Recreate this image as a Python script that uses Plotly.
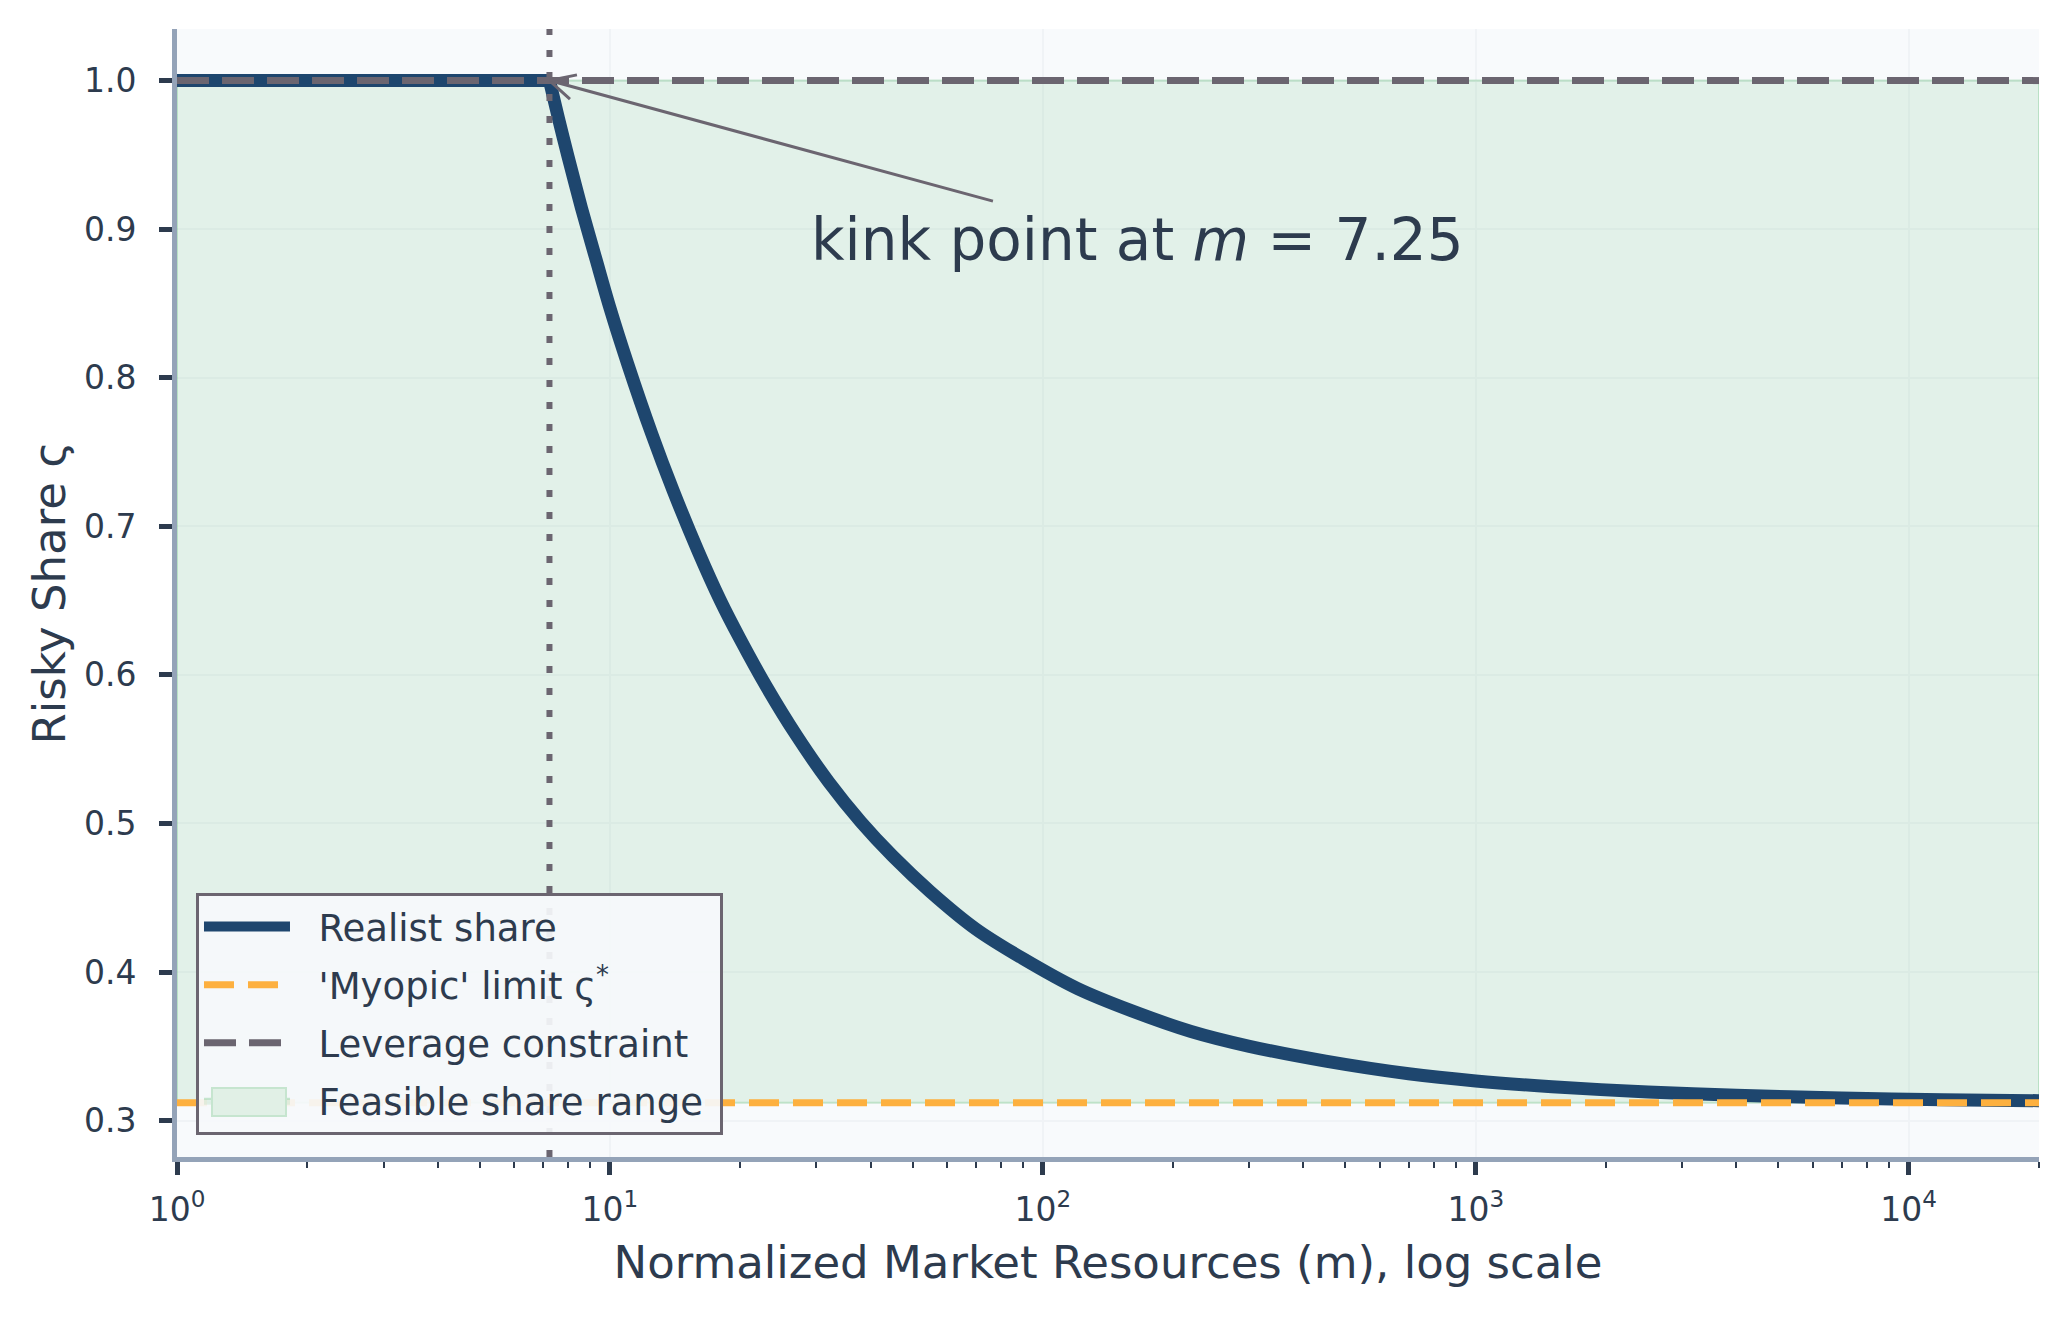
import numpy as np
import plotly.graph_objects as go

# values
m_vals = [1, 7.25, 7.6, 8.0, 8.6, 9.3, 10, 11, 12.5, 14, 16, 18, 20, 23, 27, 32, 38, 45, 55,
          70, 90, 120, 160, 220, 300, 450, 700, 1000, 1500, 2500, 4000, 7000, 12000, 20000]
share_vals = [1.0, 1.0, 0.975, 0.949, 0.914, 0.879, 0.847, 0.809, 0.762, 0.724, 0.683, 0.650,
              0.624, 0.592, 0.559, 0.528, 0.501, 0.478, 0.454, 0.429, 0.409, 0.389, 0.374,
              0.360, 0.350, 0.340, 0.3315, 0.3267, 0.3228, 0.3192, 0.3170, 0.3152, 0.3141, 0.3134]
myopic_limit = 0.312
leverage_limit = 1.0
kink_m = 7.25
m_min, m_max = 1, 20000
y_min, y_max = 0.2755, 1.0347

major_ticks = [1, 10, 100, 1000, 10000]
major_labels = ["10<sup>0</sup>", "10<sup>1</sup>", "10<sup>2</sup>", "10<sup>3</sup>", "10<sup>4</sup>"]
minor_ticks = [k * 10 ** d for d in range(5) for k in range(2, 10) if k * 10 ** d <= m_max]
y_ticks = [0.3, 0.4, 0.5, 0.6, 0.7, 0.8, 0.9, 1.0]

NAVY = "#1e466e"
ORANGE = "#fdb03f"
GRAY = "#6b6570"
TEXT = "#2d3b4e"
SPINE = "#94a3b8"
FONT = "DejaVu Sans"
PAD = "\u00a0\u00a0"  # gap between legend symbol and label

fig = go.Figure()

# feasible region between myopic limit and leverage constraint
fig.add_trace(go.Scatter(
    x=[m_min, m_max, m_max, m_min, m_min],
    y=[myopic_limit, myopic_limit, leverage_limit, leverage_limit, myopic_limit],
    fill="toself", fillcolor="rgba(40,167,69,0.10)",
    line=dict(color="rgba(40,167,69,0.22)", width=2),
    mode="lines", name=PAD + "Feasible share range\u00a0", legendrank=4, legendgroup="d",
    hoverinfo="skip",
))

# flat part up to the kink, then the declining part
fig.add_trace(go.Scatter(
    x=m_vals[:2], y=share_vals[:2], mode="lines", showlegend=False,
    line=dict(color=NAVY, width=13), legendgroup="a",
))
fig.add_trace(go.Scatter(
    x=m_vals[1:], y=share_vals[1:], mode="lines", name=PAD + "Realist share",
    line=dict(color=NAVY, width=13, shape="spline", smoothing=0.8),
    legendrank=1, legendgroup="a",
))

fig.add_trace(go.Scatter(
    x=[m_min, m_max], y=[leverage_limit, leverage_limit], mode="lines",
    name=PAD + "Leverage constraint", line=dict(color=GRAY, width=7, dash="32px,13px"),
    legendrank=3, legendgroup="c",
))

fig.add_trace(go.Scatter(
    x=[m_min, m_max], y=[myopic_limit, myopic_limit], mode="lines",
    name=PAD + "'Myopic' limit ς<sup>*</sup>", line=dict(color=ORANGE, width=7, dash="30px,14px"),
    legendrank=2, legendgroup="b",
))

# vertical dotted line at the kink
fig.add_trace(go.Scatter(
    x=[kink_m, kink_m], y=[y_min, y_max], mode="lines", showlegend=False,
    line=dict(color=GRAY, width=6, dash="7px,15px"), hoverinfo="skip",
))

# annotation: text, arrow shaft, and open arrow head
kx, ky = np.log10(kink_m), leverage_limit
fig.add_annotation(x=np.log10(28.8), y=0.893, xref="x", yref="y",
                   text="kink point at <i>m</i> = 7.25", showarrow=False,
                   xanchor="left", yanchor="middle",
                   font=dict(family=FONT, size=58, color=TEXT))
for ax, ay in [(445, 121), (22, 20), (29, -6)]:
    fig.add_annotation(x=kx, y=ky, xref="x", yref="y", text="", showarrow=True,
                       arrowhead=0, arrowwidth=3, arrowcolor=GRAY, ax=ax, ay=ay,
                       standoff=0, startstandoff=0)

# larger swatch for the shaded-range legend entry
fig.add_annotation(x=0.0384, y=0.049, xref="paper", yref="paper", text="\u00a0",
                   xanchor="center", yanchor="middle",
                   showarrow=False, width=72, height=26, borderpad=0,
                   bgcolor="#e1f0e6", bordercolor="#c6e5cf", borderwidth=2,
                   font=dict(size=10))

fig.update_xaxes(
    type="log", range=[np.log10(m_min), np.log10(m_max)],
    tickvals=major_ticks, ticktext=major_labels,
    ticks="outside", ticklen=13, tickwidth=5, tickcolor=TEXT,
    minor=dict(tickvals=minor_ticks, ticks="outside", ticklen=6, tickwidth=2,
               tickcolor=TEXT, showgrid=False),
    showline=True, linecolor=SPINE, linewidth=5,
    showgrid=True, gridcolor="#f0f3f6", gridwidth=1.5,
    zeroline=False, ticklabelstandoff=6,
    tickfont=dict(family=FONT, size=33, color=TEXT),
    title=dict(text="Normalized Market Resources (m), log scale",
               font=dict(family=FONT, size=45, color=TEXT), standoff=20),
)
fig.update_yaxes(
    range=[y_min, y_max], tickvals=y_ticks, tickformat=".1f",
    ticks="outside", ticklen=13, tickwidth=5, tickcolor=TEXT,
    showline=True, linecolor=SPINE, linewidth=5,
    showgrid=True, gridcolor="#f0f3f6", gridwidth=1.5,
    zeroline=False, ticklabelstandoff=16,
    tickfont=dict(family=FONT, size=33, color=TEXT),
    title=dict(text="Risky Share ς", font=dict(family=FONT, size=45, color=TEXT), standoff=6),
)

fig.update_layout(
    width=2068, height=1320,
    margin=dict(l=169, r=37, t=21, b=171),
    paper_bgcolor="white", plot_bgcolor="#f8fafc",
    font=dict(family=FONT, color=TEXT),
    legend=dict(x=0.0102, y=0.0195, xanchor="left", yanchor="bottom",
                bgcolor="rgba(246,249,251,0.92)", bordercolor=GRAY, borderwidth=3,
                font=dict(family=FONT, size=37, color=TEXT), itemwidth=86,
                traceorder="grouped", tracegroupgap=7),
    showlegend=True,
)

fig.write_html("out.html")
